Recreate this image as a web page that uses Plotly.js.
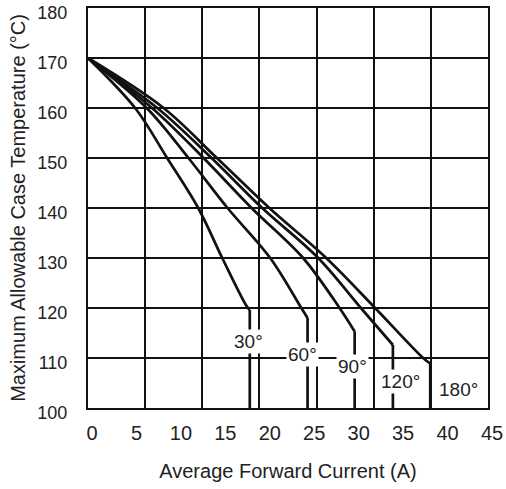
<!DOCTYPE html>
<html>
<head>
<meta charset="utf-8">
<script src="https://cdn.plot.ly/plotly-3.0.1.min.js"></script>
<style>html,body{margin:0;padding:0;background:#fff;}#chart{width:506px;height:489px;}</style>
</head>
<body>
<div id="chart"></div>
<script>
// Data (Average Forward Current in A, Case Temperature in °C)
// The last point of each series is the vertical drop to the bottom of the chart.
const curveNames = ["30°", "60°", "90°", "120°", "180°"];
const x30  = [0, 5.3, 8.9, 12.4, 15.1, 17.8, 18.2, 18.2];
const y30  = [170, 160, 150, 140, 130, 120.5, 119.6, 100];
const x60  = [0, 6.6, 11.3, 15.7, 20.5, 24.0, 24.7, 24.7];
const y60  = [170, 160, 150, 140, 130, 120, 118, 100];
const x90  = [0, 7.2, 13.0, 18.4, 24.2, 28.3, 30.0, 30.0];
const y90  = [170, 160, 150, 140, 130, 120, 115.3, 100];
const x120 = [0, 7.8, 13.9, 19.6, 25.9, 30.7, 34.3, 34.3];
const y120 = [170, 160, 150, 140, 130, 120, 112.6, 100];
const x180 = [0, 8.5, 14.5, 20.4, 26.8, 32.3, 37.7, 38.5, 38.5];
const y180 = [170, 160, 150, 140, 130, 120, 110, 108.9, 100];
// label positions for each curve
const labelX = [18.0, 24.1, 29.7, 35.2, 41.7];
const labelY = [113.4, 110.8, 108.4, 105.4, 103.8];
// tick labels
const xTicks = [0, 5, 10, 15, 20, 25, 30, 35, 40, 45];
const yTicks = [100, 110, 120, 130, 140, 150, 160, 170, 180];

const xs = [x30, x60, x90, x120, x180];
const ys = [y30, y60, y90, y120, y180];

const lineStyle = {color: '#111', width: 2.7};
const traces = [];
xs.forEach((xv, i) => {
  const yv = ys[i];
  const n = xv.length;
  // smooth curved part
  traces.push({
    type: 'scatter', mode: 'lines', x: xv.slice(0, n - 1), y: yv.slice(0, n - 1), name: curveNames[i],
    line: Object.assign({shape: 'spline', smoothing: 1}, lineStyle), showlegend: false, hoverinfo: 'skip'
  });
  // vertical drop
  traces.push({
    type: 'scatter', mode: 'lines', x: xv.slice(n - 2), y: yv.slice(n - 2), name: curveNames[i],
    line: lineStyle, showlegend: false, hoverinfo: 'skip'
  });
});

const font = 'Liberation Sans, Arial, sans-serif';
const annotations = curveNames.map((t, i) => ({
  x: labelX[i], y: labelY[i], xref: 'x', yref: 'y', text: t, showarrow: false,
  font: {family: font, size: 19, color: '#222'}, bgcolor: '#fff', borderpad: 1
}));

const layout = {
  width: 506, height: 489,
  margin: {l: 88, r: 18, t: 8, b: 81, pad: 0},
  paper_bgcolor: '#fff', plot_bgcolor: '#fff',
  showlegend: false,
  xaxis: {
    range: [0, 45], tickmode: 'array', tickvals: xTicks, ticktext: xTicks.map(String),
    showgrid: false, zeroline: false, ticks: '', ticklabelshift: 4, ticklabelstandoff: 6,
    ticklabeloverflow: 'allow',
    showline: true, mirror: true, linecolor: '#111', linewidth: 2,
    tickfont: {family: font, size: 20, color: '#222'},
    minor: {tick0: 0, dtick: 45/7, showgrid: true, gridcolor: '#111', gridwidth: 2, ticks: ''},
    title: {text: 'Average Forward Current (A)', font: {family: font, size: 20, color: '#222'}, standoff: 21}
  },
  yaxis: {
    range: [100, 180], tickmode: 'array', tickvals: yTicks, ticktext: yTicks.map(String),
    showgrid: true, gridcolor: '#111', gridwidth: 2, zeroline: false, ticks: '',
    ticklabelshift: 5, ticklabelstandoff: 15, ticklabeloverflow: 'allow',
    showline: true, mirror: true, linecolor: '#111', linewidth: 2,
    tickfont: {family: font, size: 18, color: '#222'},
    title: {text: 'Maximum Allowable Case Temperature (°C)', font: {family: font, size: 20, color: '#222'}, standoff: 6}
  },
  annotations: annotations
};

Plotly.newPlot('chart', traces, layout, {staticPlot: true, displayModeBar: false});
</script>
</body>
</html>
